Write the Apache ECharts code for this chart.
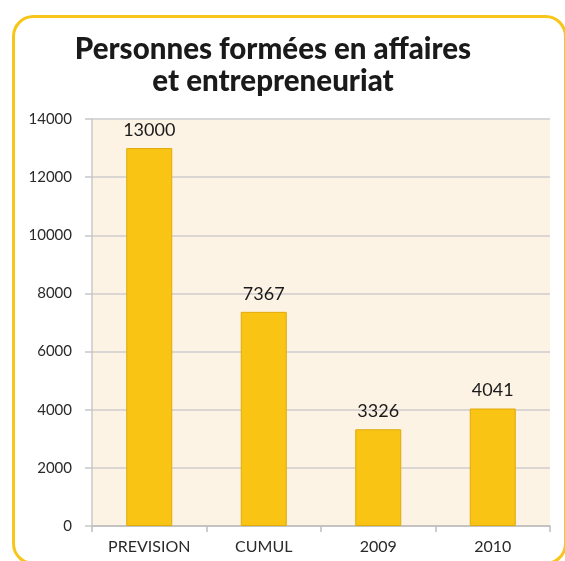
<!DOCTYPE html>
<html><head><meta charset="utf-8">
<script src="https://cdn.jsdelivr.net/npm/echarts@6/dist/echarts.min.js"></script>
<style>html,body{margin:0;padding:0;background:#fff}#c{width:565px;height:561px}</style>
</head><body><div id="c"></div>
<script>
var categories = ['PREVISION', 'CUMUL', '2009', '2010'];
var values = [13000, 7367, 3326, 4041];
var titleLines = ['Personnes formées en affaires', 'et entrepreneuriat'];

var chart = echarts.init(document.getElementById('c'), null, {renderer: 'canvas'});
chart.setOption({
  animation: false,
  title: {
    text: titleLines.join('\n'),
    left: 268, top: 28, textAlign: 'center',
    textStyle: {fontFamily: 'Lato', fontWeight: 900, fontSize: 29.5, lineHeight: 32, color: '#1a1a1a'}
  },
  graphic: [{
    type: 'rect', silent: true, z: -10,
    shape: {x: 13.5, y: 16.5, width: 552, height: 547, r: 20},
    style: {fill: 'none', stroke: '#F8C61A', lineWidth: 3}
  }],
  grid: {left: 92, right: 15, top: 119, bottom: 35, show: true, backgroundColor: '#FDF3E5', borderWidth: 0},
  xAxis: {
    type: 'category', data: categories,
    axisLine: {lineStyle: {color: '#BDBDBD', width: 1.5}},
    axisTick: {show: true, length: 6, lineStyle: {color: '#BDBDBD', width: 1.5}},
    axisLabel: {color: '#2a2a2a', fontFamily: 'Lato', fontSize: 16, margin: 13}
  },
  yAxis: {
    type: 'value', min: 0, max: 14000, interval: 2000,
    axisLine: {show: true, lineStyle: {color: '#C8C8C8', width: 1.5}},
    axisTick: {show: true, length: 7, lineStyle: {color: '#C8C8C8', width: 1.5}},
    axisLabel: {color: '#2a2a2a', fontFamily: 'Lato', fontSize: 15, margin: 20, formatter: function (v) { return String(v); }},
    splitLine: {lineStyle: {color: '#CDCDCD', width: 1.5}}
  },
  series: [{
    type: 'bar', data: values, barWidth: 46,
    itemStyle: {color: '#F9C413', borderColor: '#E0AA0A', borderWidth: 1},
    label: {show: true, position: 'top', distance: 9, color: '#1a1a1a', fontFamily: 'Lato', fontSize: 18}
  }]
});
</script></body></html>
